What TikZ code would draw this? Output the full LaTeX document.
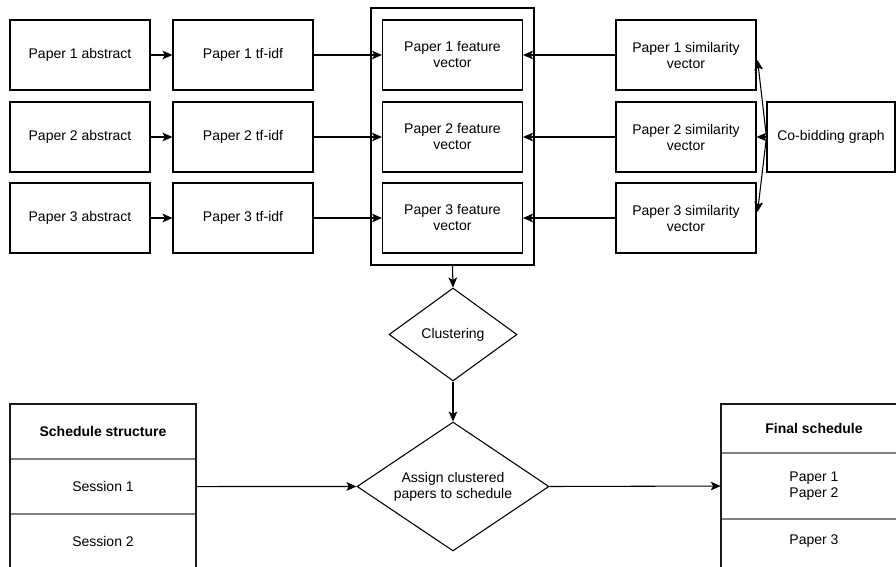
\documentclass[tikz,border=0pt]{standalone}
\usepackage{fontspec}
\setmainfont{Liberation Sans}
\usetikzlibrary{shapes.geometric,arrows.meta,positioning}

\begin{document}
\begin{tikzpicture}[x=0.75pt,y=-0.75pt,
    font=\fontsize{10.5}{12}\selectfont,
    box/.style={draw,line width=0.8pt,minimum width=105pt,minimum height=52.5pt,inner sep=2pt,align=center},
    decision/.style={diamond,draw,line width=0.8pt,inner sep=0pt,align=center},
    link/.style={draw,line width=0.8pt,-{Stealth[length=7.5pt,width=6.5pt,inset=1.8pt]}},
    cell/.style={minimum width=139.5pt,inner sep=0pt,align=center},
    frame/.style={draw=black!90,line width=1.3pt},
    rule/.style={draw=black!50,line width=1.2pt}]
    \useasboundingbox (0,0) rectangle (896,567);
    \clip (0,0) rectangle (896,567);

    % container of the feature vectors
    \node[draw,line width=0.8pt,minimum width=122.25pt,minimum height=192.75pt] (featbox) at (452.5,136.5) {};

    \foreach \i/\y in {1/55, 2/137, 3/218} {
      \node[box] (abs\i) at (80,\y) {Paper \i\ abstract};
      \node[box] (tfidf\i) at (243,\y) {Paper \i\ tf-idf};
      \node[box] (feat\i) at (452.5,\y) {Paper \i\ feature\\vector};
      \node[box] (sim\i) at (686,\y) {Paper \i\ similarity\\vector};
    }
    \node[box,minimum width=96pt] (cobid) at (831,137) {Co-bidding graph};

    \node[decision,minimum width=96pt,minimum height=69.75pt] (clus) at (453,334.5) {Clustering};
    \node[decision,shape aspect=1.5,minimum width=144pt,minimum height=96.75pt] (assign) at (453,486.5) {Assign clustered\\papers to schedule};

    % schedule structure table
    \node[cell,minimum height=41.25pt] (schedhead) at (103,431.5) {\textbf{Schedule structure}};
    \node[cell,minimum height=40.5pt,below=0pt of schedhead] (sess1) {Session 1};
    \node[cell,minimum height=40.5pt,below=0pt of sess1] (sess2) {Session 2};
    \draw[rule] (sess1.north west) -- (sess1.north east);
    \draw[rule] (sess2.north west) -- (sess2.north east);
    \draw[frame] (schedhead.north west) rectangle ([yshift=-20pt]sess2.south east);

    % final schedule table
    \node[cell,minimum height=36.75pt] (finalhead) at (814,428.5) {\textbf{Final schedule}};
    \node[cell,minimum height=48.75pt,below=0pt of finalhead] (slot1) {Paper 1\\Paper 2};
    \node[cell,minimum height=33pt,below=0pt of slot1] (slot2) {Paper 3};
    \draw[rule] (slot1.north west) -- (slot1.north east);
    \draw[rule] (slot2.north west) -- (slot2.north east);
    \draw[frame] (finalhead.north west) rectangle ([yshift=-20pt]slot2.south east);

    \foreach \i in {1,2,3} {
      \draw[link] (abs\i) -- (tfidf\i);
      \draw[link] (tfidf\i) -- (feat\i);
      \draw[link] (sim\i) -- (feat\i);
    }
    \draw[link] (cobid.west) -- ([shift={(1,5)}]sim1.east);
    \draw[link] (cobid.west) -- (sim2.east);
    \draw[link] (cobid.west) -- ([shift={(1,-6)}]sim3.east);
    \draw[link] (featbox.south) -- (clus.north);
    \draw[link] (clus.south) -- (assign.north);
    \draw[link] (sess1.east) -- (assign.west);
    \draw[link] (assign.east) -- (slot1.west);
\end{tikzpicture}
\end{document}
